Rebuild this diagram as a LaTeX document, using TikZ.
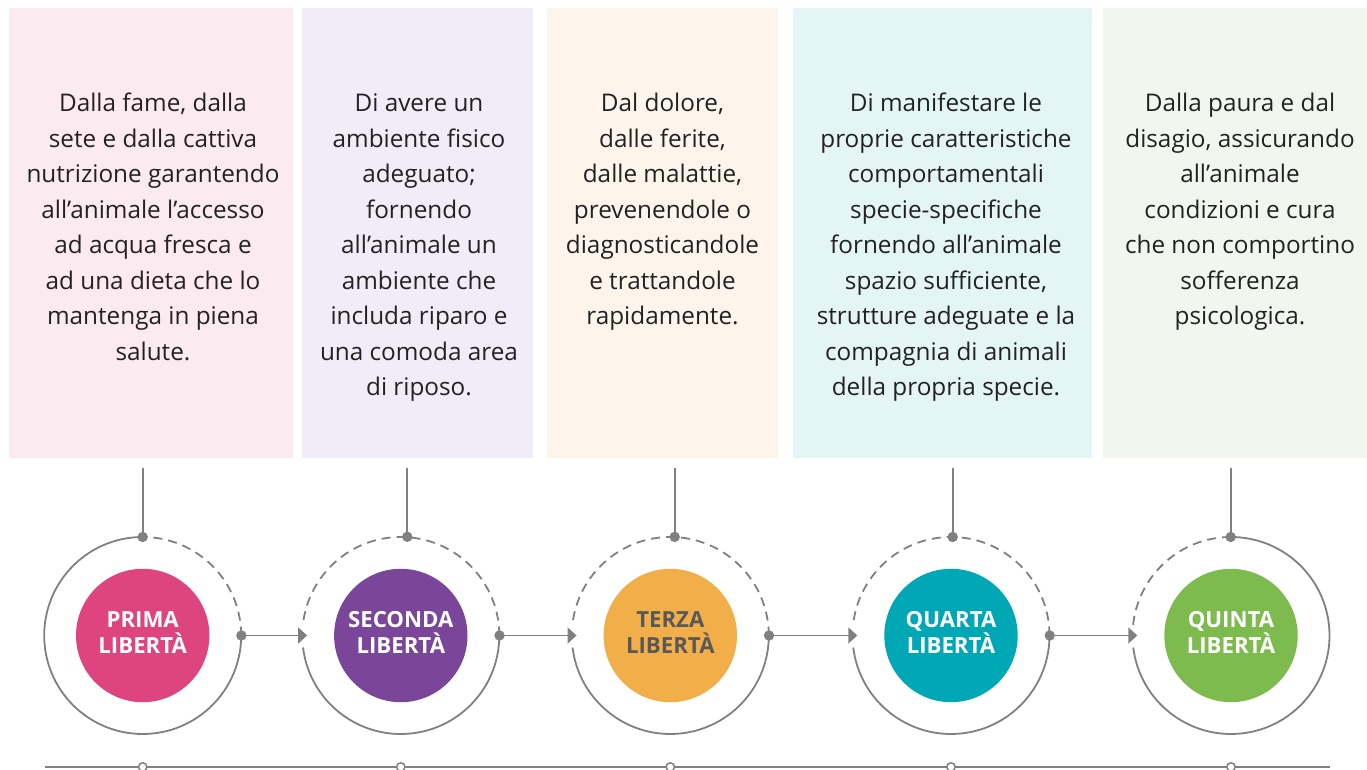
\documentclass[tikz,border=0pt]{standalone}
\usepackage{fontspec}
\setmainfont{Open Sans}
\usetikzlibrary{arrows.meta}
\definecolor{ln}{HTML}{808080}
\definecolor{txt}{HTML}{222222}
\definecolor{pA}{HTML}{FBEAF0}
\definecolor{pB}{HTML}{F1ECF8}
\definecolor{pC}{HTML}{FDF5EC}
\definecolor{pD}{HTML}{E4F5F6}
\definecolor{pE}{HTML}{F1F7EE}
\definecolor{cA}{HTML}{DD4480}
\definecolor{cB}{HTML}{794699}
\definecolor{cC}{HTML}{F2AE48}
\definecolor{cD}{HTML}{00A8B5}
\definecolor{cE}{HTML}{7DBB4F}
\definecolor{dk}{HTML}{595959}
\begin{document}
\begin{tikzpicture}[x=1pt,y=1pt,
  panel/.style={draw=none, inner sep=0pt, minimum height=450pt},
  boxtxt/.style={font=\fontsize{24.3}{35.5}\selectfont, align=center, anchor=north, inner sep=0pt, text=txt},
  ring/.style={circle, minimum size=197pt, inner sep=0pt, draw=none},
  disc/.style={circle, minimum size=133.4pt, inner sep=0pt, draw=none},
  lbl/.style={font=\fontsize{22.2}{25.5}\selectfont\bfseries, align=center, text=white, inner sep=0pt},
  gline/.style={draw=ln, line width=1.8pt},
  dashedarc/.style={draw=ln, line width=1.8pt, dash pattern=on 9pt off 6pt},
  arr/.style={draw=ln, line width=1.8pt, -{Triangle[length=9pt,width=16pt]}},
  opendot/.style={draw=ln, line width=1.5pt, fill=white},
]
\useasboundingbox (0,0) rectangle (1367,770);

% panels
\node[panel, fill=pA, minimum width=284pt] (b1) at (151,537) {};
\node[panel, fill=pB, minimum width=231pt] (b2) at (417.5,537) {};
\node[panel, fill=pC, minimum width=231pt] (b3) at (662.5,537) {};
\node[panel, fill=pD, minimum width=299pt] (b4) at (942.5,537) {};
\node[panel, fill=pE, minimum width=264pt] (b5) at (1235,537) {};

% texts
\node[boxtxt] (t1) at (153,683.2) {\strut Dalla fame, dalla\\sete e dalla cattiva\\nutrizione garantendo\\all’animale l’accesso\\ad acqua fresca e\\ad una dieta che lo\\mantenga in piena\\salute.};
\node[boxtxt] (t2) at (419,683.2) {\strut Di avere un\\ambiente fisico\\adeguato;\\fornendo\\all’animale un\\ambiente che\\includa riparo e\\una comoda area\\di riposo.};
\node[boxtxt] (t3) at (662.5,683.2) {\strut Dal dolore,\\dalle ferite,\\dalle malattie,\\prevenendole o\\diagnosticandole\\e trattandole\\rapidamente.};
\node[boxtxt] (t4) at (946,683.2) {\strut Di manifestare le\\proprie caratteristiche\\comportamentali\\specie-specifiche\\fornendo all’animale\\spazio sufficiente,\\strutture adeguate e la\\compagnia di animali\\della propria specie.};
\node[boxtxt] (t5) at (1240,683.2) {\strut Dalla paura e dal\\disagio, assicurando\\all’animale\\condizioni e cura\\che non comportino\\sofferenza\\psicologica.};

% rings and discs
\node[ring] (o1) at (142.7,134.5) {};
\node[ring] (o2) at (400.8,134.5) {};
\node[ring] (o3) at (670.3,134.5) {};
\node[ring] (o4) at (951,134.5) {};
\node[ring] (o5) at (1231,134.5) {};

\node[disc, fill=cA] (d1) at (o1.center) {};
\node[disc, fill=cB] (d2) at (o2.center) {};
\node[disc, fill=cC] (d3) at (o3.center) {};
\node[disc, fill=cD] (d4) at (o4.center) {};
\node[disc, fill=cE] (d5) at (o5.center) {};

\node[lbl] (l1) at ([yshift=3.2pt]d1.center) {PRIMA\\LIBERTÀ};
\node[lbl] (l2) at ([yshift=3.2pt]d2.center) {SECONDA\\LIBERTÀ};
\node[lbl, text=dk] (l3) at ([yshift=3.2pt]d3.center) {TERZA\\LIBERTÀ};
\node[lbl] (l4) at ([yshift=3.2pt]d4.center) {QUARTA\\LIBERTÀ};
\node[lbl] (l5) at ([yshift=3.2pt]d5.center) {QUINTA\\LIBERTÀ};

% ring outlines
\draw[dashedarc] ([shift={(0:98.5)}]o1.center) arc[start angle=0, end angle=90, radius=98.5];
\draw[gline] ([shift={(90:98.5)}]o1.center) arc[start angle=90, end angle=360, radius=98.5];
\foreach \i in {2,3,4}{
  \draw[dashedarc] ([shift={(0:98.5)}]o\i.center) arc[start angle=0, end angle=174, radius=98.5];
  \draw[gline] ([shift={(187:98.5)}]o\i.center) arc[start angle=187, end angle=360, radius=98.5];
}
\draw[dashedarc] ([shift={(90:98.5)}]o5.center) arc[start angle=90, end angle=174, radius=98.5];
\draw[gline] ([shift={(187:98.5)}]o5.center) arc[start angle=187, end angle=450, radius=98.5];

% vertical connectors
\coordinate (v1) at (142.7,302); \coordinate (p1) at (142.7,233);
\coordinate (v2) at (407.3,302); \coordinate (p2) at (407.3,233.2);
\coordinate (v3) at (674.7,302); \coordinate (p3) at (674.7,233.1);
\coordinate (v4) at (952.7,302); \coordinate (p4) at (952.7,233);
\coordinate (v5) at (1230.7,302); \coordinate (p5) at (1230.7,233);
\foreach \i in {1,...,5}{
  \draw[gline] (v\i) -- (p\i);
  \fill[ln] (p\i) circle (5.2);
}

% horizontal arrows
\foreach \i/\j in {1/2,2/3,3/4,4/5}{
  \draw[arr] (o\i.east) -- ([xshift=5pt]o\j.west);
  \fill[ln] (o\i.east) circle (5.2);
}

% bottom line
\coordinate (bl) at (45,3);
\coordinate (br) at (1330,3);
\draw[gline, line width=1.5pt] (bl) -- (br);
\foreach \i in {1,...,5}{
  \draw[opendot] (o\i.center |- bl) circle (4.2);
}
\end{tikzpicture}
\end{document}
